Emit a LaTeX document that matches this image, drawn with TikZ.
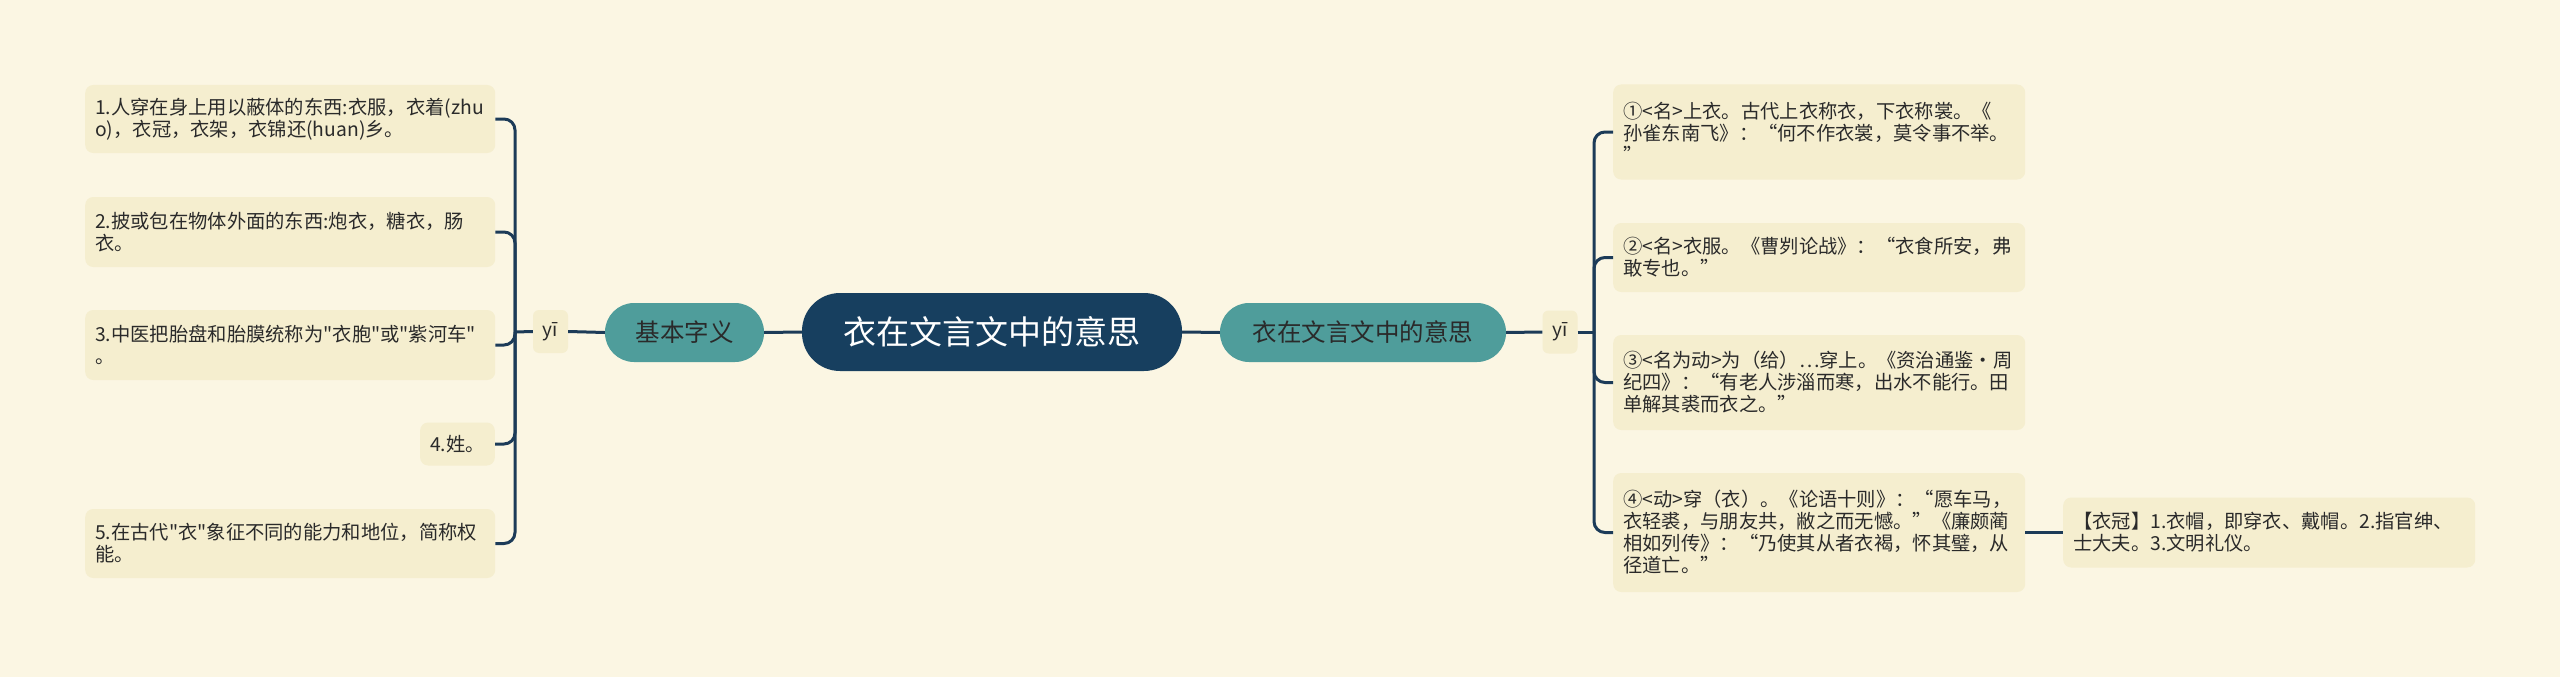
\documentclass[tikz,border=0pt]{standalone}
\usepackage{fontspec}
\setmainfont{Noto Sans CJK SC}[Ligatures=TeXOff]
\definecolor{bg}{HTML}{FBF6E3}
\definecolor{leaf}{HTML}{F5EECF}
\definecolor{navy}{HTML}{173F5F}
\definecolor{line}{HTML}{1C3B58}
\definecolor{teal}{HTML}{4F9D9B}
\definecolor{ink}{HTML}{2A2A2A}
\tikzset{
  leafbox/.style={fill=leaf, rounded corners=8pt, inner xsep=10pt, inner ysep=0pt,
    text=ink, align=left, font=\fontsize{19.3}{22}\selectfont},
  wleaf/.style={leafbox, text width=390pt, anchor=west},
  rleaf/.style={leafbox, text width=392pt, anchor=west},
  conn/.style={draw=line, line width=3pt, rounded corners=11pt},
  straight/.style={draw=line, line width=3pt},
  topic/.style={fill=teal, text=ink, rounded corners=29pt, minimum height=59pt,
    inner sep=0pt, font=\fontsize{24.5}{28}\selectfont},
  pin/.style={fill=leaf, rounded corners=6pt, minimum height=43pt, minimum width=35pt,
    inner sep=0pt, text=ink, font=\fontsize{19}{22}\selectfont},
}
\begin{document}
\begin{tikzpicture}[x=1pt,y=-1pt]
\useasboundingbox (0,0) rectangle (2560,677);
\fill[bg] (0,0) rectangle (2560,677);

% central
\node[fill=navy, text=white, rounded corners=38pt, minimum width=380pt, minimum height=78pt,
  inner sep=0pt, font=\fontsize{33}{37}\selectfont] (c) at (992,332) {衣在文言文中的意思};

% topics
\node[topic, minimum width=159pt] (tl) at (684.5,332.5) {基本字义};
\node[topic, minimum width=286pt] (tr) at (1363,332.5) {衣在文言文中的意思};

% pins
\node[pin] (yl) at (550.5,331.5) {yī};
\node[pin] (yr) at (1560,332) {yī};

% left leaves
\node[wleaf, minimum height=68pt] (l1) at (85,119) {1.人穿在身上用以蔽体的东西:衣服，衣着(zhu\\o)，衣冠，衣架，衣锦还(huan)乡。};
\node[wleaf, minimum height=70pt] (l2) at (85,232) {2.披或包在物体外面的东西:炮衣，糖衣，肠\\衣。};
\node[wleaf, minimum height=70pt] (l3) at (85,345) {3.中医把胎盘和胎膜统称为"衣胞"或"紫河车"\\。};
\node[leafbox, anchor=east, minimum height=43pt] (l4) at (495,444) {4.姓。};
\node[wleaf, minimum height=69pt] (l5) at (85,543.5) {5.在古代"衣"象征不同的能力和地位，简称权\\能。};

% right leaves
\node[rleaf, minimum height=95pt] (r1) at (1613,132) {①<名>上衣。古代上衣称衣，下衣称裳。《\\孙雀东南飞》：“何不作衣裳，莫令事不举。\\”};
\node[rleaf, minimum height=69pt] (r2) at (1613,257.5) {②<名>衣服。《曹刿论战》：“衣食所安，弗\\敢专也。”};
\node[rleaf, minimum height=95pt] (r3) at (1613,382.5) {③<名为动>为（给）…穿上。《资治通鉴·周\\纪四》：“有老人涉淄而寒，出水不能行。田\\单解其裘而衣之。”};
\node[rleaf, minimum height=119pt] (r4) at (1613,532.5) {④<动>穿（衣）。《论语十则》：“愿车马，\\衣轻裘，与朋友共，敝之而无憾。”《廉颇蔺\\相如列传》：“乃使其从者衣褐，怀其璧，从\\径道亡。”};
\node[rleaf, minimum height=70pt] (s1) at (2063,532.5) {【衣冠】1.衣帽，即穿衣、戴帽。2.指官绅、\\士大夫。3.文明礼仪。};

% bracket coordinates
\coordinate (bl) at (515,332);
\coordinate (br) at (1594,332);

% connectors
\draw[straight] (c.west) -- (tl.east);
\draw[straight] (tl.west) -- (yl.east);
\draw[straight] (yl.west) -- (bl);
\draw[straight] (c.east) -- (tr.west);
\draw[straight] (tr.east) -- (yr.west);
\draw[straight] (yr.east) -- (br);
\foreach \n in {l1,l2,l3,l4,l5} \draw[conn] (bl) |- (\n.east);
\foreach \n in {r1,r2,r3,r4} \draw[conn] (br) |- (\n.west);
\draw[straight] (r4.east) -- (s1.west);
\end{tikzpicture}
\end{document}
